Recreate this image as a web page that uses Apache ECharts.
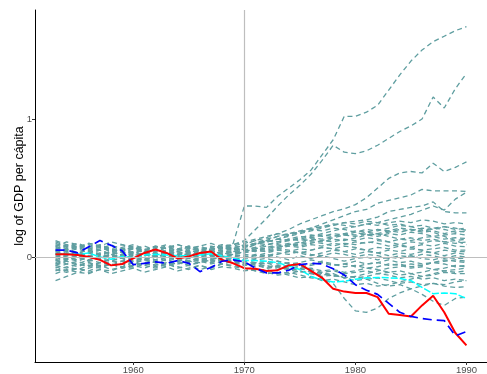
<!DOCTYPE html>
<html>
<head>
<meta charset="utf-8">
<script src="https://cdn.jsdelivr.net/npm/echarts@6/dist/echarts.min.js"></script>
<style>
  html, body { margin: 0; padding: 0; background: #ffffff; }
  #chart { width: 487px; height: 374px; }
</style>
</head>
<body>
<div id="chart"></div>
<script>
// Years of observation
const years = [1953,1954,1955,1956,1957,1958,1959,1960,1961,1962,1963,1964,1965,1966,1967,1968,1969,
               1970,1971,1972,1973,1974,1975,1976,1977,1978,1979,1980,1981,1982,1983,1984,1985,1986,1987,1988,1989,1990];

// Treated unit (solid red)
const treated = [0.02,0.02,0.015,0.0,-0.02,-0.06,-0.05,-0.01,0.03,0.055,0.03,-0.01,0.005,0.03,0.04,-0.02,-0.045,
                 -0.08,-0.085,-0.10,-0.095,-0.06,-0.05,-0.10,-0.15,-0.23,-0.25,-0.26,-0.26,-0.29,-0.41,-0.42,-0.43,-0.35,-0.28,-0.40,-0.55,-0.64];

// Blue dashed comparison series
const blueSeries = [0.05,0.05,0.03,0.075,0.12,0.085,0.045,-0.055,-0.045,-0.035,-0.045,-0.025,-0.045,-0.105,-0.075,-0.03,-0.02,
                    -0.035,-0.08,-0.115,-0.115,-0.095,-0.055,-0.045,-0.05,-0.085,-0.13,-0.20,-0.24,-0.27,-0.335,-0.40,-0.43,-0.445,-0.455,-0.46,-0.57,-0.54];

// Cyan comparison series
const cyanSeries = [0.025,0.025,0.02,0.03,0.0,-0.015,0.005,-0.005,0.015,0.02,0.015,0.01,0.01,0.015,0.025,0.01,-0.01,
                    -0.025,-0.025,-0.03,-0.04,-0.065,-0.09,-0.14,-0.165,-0.18,-0.175,-0.16,-0.15,-0.148,-0.15,-0.155,-0.17,-0.22,-0.265,-0.26,-0.265,-0.30];

// Placebo units (teal dashed)
const p01 = [0.04,0.06,0.03,0.05,0.02,0.04,0.01,0.03,0.05,0.02,0.04,0.06,0.03,0.05,0.07,0.04,0.10,
             0.37,0.37,0.36,0.44,0.50,0.56,0.63,0.74,0.85,1.02,1.02,1.05,1.10,1.21,1.32,1.42,1.50,1.56,1.60,1.64,1.67];
const p02 = [-0.02,0.01,0.03,0.00,0.02,-0.01,0.02,0.04,0.01,0.03,0.00,0.02,0.05,0.03,0.06,0.08,0.09,
             0.12,0.20,0.28,0.37,0.45,0.52,0.60,0.70,0.81,0.76,0.75,0.77,0.81,0.86,0.91,0.95,1.00,1.16,1.08,1.22,1.33];
const p03 = [0.08,0.05,0.07,0.04,0.06,0.09,0.05,0.07,0.04,0.06,0.08,0.05,0.07,0.04,0.06,0.08,0.06,
             0.09,0.12,0.14,0.17,0.20,0.24,0.27,0.30,0.33,0.35,0.38,0.43,0.50,0.57,0.61,0.62,0.61,0.68,0.62,0.65,0.69];
const p04 = [-0.05,-0.02,0.01,-0.03,0.00,0.02,-0.01,0.01,0.03,0.00,0.02,0.04,0.01,0.03,0.05,0.02,0.04,
             0.06,0.09,0.12,0.15,0.17,0.19,0.21,0.24,0.27,0.30,0.33,0.345,0.39,0.41,0.43,0.45,0.49,0.48,0.48,0.48,0.475];
const p05 = [0.10,0.07,0.09,0.06,0.08,0.05,0.07,0.09,0.06,0.04,0.07,0.05,0.08,0.06,0.04,0.07,0.05,
             0.08,0.10,0.11,0.13,0.15,0.17,0.19,0.21,0.23,0.25,0.26,0.27,0.29,0.33,0.345,0.36,0.37,0.40,0.33,0.32,0.32];
const p06 = [0.02,0.04,0.01,0.03,0.05,0.02,0.00,0.03,0.01,0.04,0.02,0.00,0.03,0.05,0.02,0.04,0.03,
             0.05,0.07,0.09,0.10,0.12,0.13,0.15,0.17,0.19,0.21,0.22,0.24,0.25,0.27,0.29,0.31,0.34,0.37,0.34,0.42,0.47];
const p07 = [-0.06,-0.03,-0.05,-0.02,-0.04,-0.01,-0.03,0.00,-0.02,0.01,-0.01,0.02,0.00,0.03,0.01,0.03,0.05,
             0.07,0.10,0.13,0.15,0.17,0.18,0.21,0.22,0.24,0.23,0.22,0.24,0.23,0.25,0.26,0.25,0.27,0.26,0.24,0.25,0.24];
const p08 = [0.06,0.09,0.07,0.10,0.08,0.06,0.09,0.07,0.05,0.08,0.06,0.09,0.07,0.05,0.08,0.06,0.07,
             0.08,0.10,0.09,0.11,0.13,0.12,0.14,0.13,0.15,0.17,0.16,0.18,0.17,0.19,0.18,0.20,0.19,0.21,0.20,0.18,0.19];
const p09 = [-0.10,-0.07,-0.09,-0.06,-0.08,-0.05,-0.07,-0.04,-0.06,-0.08,-0.05,-0.07,-0.09,-0.06,-0.08,-0.05,-0.07,
             -0.08,-0.10,-0.09,-0.12,-0.11,-0.13,-0.15,-0.16,-0.19,-0.30,-0.39,-0.40,-0.37,-0.30,-0.26,-0.23,-0.21,-0.19,-0.20,-0.18,-0.17];
const p10 = [0.03,0.00,-0.02,0.01,-0.01,0.02,0.00,-0.03,-0.01,0.01,-0.02,0.00,0.02,-0.01,0.01,-0.02,0.00,
             -0.03,-0.05,-0.04,-0.07,-0.09,-0.08,-0.11,-0.13,-0.12,-0.15,-0.17,-0.16,-0.19,-0.21,-0.20,-0.23,-0.27,-0.32,-0.35,-0.30,-0.29];
const p11 = [-0.04,-0.01,-0.03,0.00,-0.02,0.01,-0.01,-0.04,-0.02,0.00,-0.03,-0.01,0.01,-0.02,-0.04,-0.01,-0.03,
             -0.05,-0.07,-0.06,-0.09,-0.08,-0.10,-0.12,-0.11,-0.13,-0.15,-0.14,-0.16,-0.15,-0.17,-0.19,-0.18,-0.20,-0.19,-0.21,-0.22,-0.215];
const p12 = [0.01,-0.02,0.00,-0.03,-0.01,0.02,-0.01,0.01,-0.02,0.00,0.02,-0.01,-0.03,0.00,0.02,-0.01,-0.02,
             -0.04,-0.06,-0.08,-0.07,-0.09,-0.11,-0.10,-0.12,-0.14,-0.13,-0.15,-0.14,-0.12,-0.13,-0.15,-0.14,-0.16,-0.15,-0.17,-0.16,-0.17];
const p13 = [-0.08,-0.05,-0.07,-0.04,-0.06,-0.03,-0.05,-0.07,-0.04,-0.02,-0.05,-0.03,-0.06,-0.04,-0.02,-0.05,-0.03,
             -0.06,-0.05,-0.08,-0.07,-0.06,-0.09,-0.08,-0.10,-0.09,-0.11,-0.10,-0.08,-0.09,-0.11,-0.10,-0.12,-0.11,-0.09,-0.10,-0.11,-0.10];
const p14 = [0.05,0.02,0.04,0.01,0.03,0.00,0.02,-0.01,0.01,0.03,0.00,0.02,-0.01,0.01,0.03,0.00,-0.01,
             -0.02,-0.04,-0.03,-0.05,-0.04,-0.06,-0.05,-0.03,-0.05,-0.07,-0.06,-0.08,-0.07,-0.05,-0.06,-0.08,-0.07,-0.09,-0.08,-0.06,-0.07];
const p15 = [-0.03,0.00,-0.02,0.01,-0.01,-0.03,0.00,0.02,-0.01,0.01,-0.02,0.00,0.02,0.00,-0.02,0.01,-0.01,
             0.00,-0.02,-0.01,-0.03,-0.05,-0.04,-0.02,-0.04,-0.06,-0.05,-0.07,-0.05,-0.04,-0.06,-0.05,-0.07,-0.06,-0.04,-0.05,-0.07,-0.06];
const p16 = [0.02,0.05,0.03,0.00,0.02,0.04,0.01,-0.01,0.02,0.00,0.03,0.01,-0.01,0.02,0.00,0.02,0.01,
             0.01,-0.01,0.02,0.00,-0.02,0.01,-0.01,0.01,-0.01,-0.03,-0.01,0.00,-0.02,0.00,-0.01,0.01,-0.01,-0.02,0.00,-0.01,-0.01];
const p17 = [-0.12,-0.09,-0.11,-0.08,-0.06,-0.09,-0.07,-0.04,-0.06,-0.03,-0.05,-0.02,-0.04,-0.02,0.00,-0.02,-0.01,
             0.00,0.02,0.01,0.03,0.02,0.04,0.02,0.01,0.03,0.02,0.00,0.02,0.01,-0.01,0.01,0.00,0.02,0.01,-0.01,0.01,0.00];
const p18 = [0.07,0.04,0.06,0.03,0.05,0.02,0.04,0.06,0.03,0.01,0.04,0.02,0.05,0.03,0.01,0.03,0.02,
             0.03,0.05,0.04,0.06,0.05,0.03,0.05,0.07,0.06,0.04,0.06,0.05,0.03,0.05,0.04,0.06,0.05,0.03,0.05,0.04,0.04];
const p19 = [-0.02,-0.05,-0.03,-0.06,-0.04,-0.02,-0.05,-0.03,-0.01,-0.04,-0.02,-0.05,-0.03,-0.01,-0.03,-0.02,0.00,
             0.02,0.01,0.03,0.05,0.04,0.06,0.05,0.07,0.06,0.08,0.07,0.05,0.07,0.06,0.08,0.07,0.05,0.06,0.07,0.05,0.05];
const p20 = [0.11,0.08,0.10,0.07,0.09,0.06,0.04,0.07,0.05,0.08,0.06,0.04,0.06,0.08,0.05,0.07,0.06,
             0.05,0.07,0.06,0.08,0.10,0.09,0.11,0.10,0.08,0.10,0.09,0.11,0.10,0.08,0.09,0.07,0.09,0.08,0.10,0.08,0.075];
const p21 = [-0.06,-0.08,-0.05,-0.07,-0.04,-0.06,-0.03,-0.05,-0.02,-0.04,-0.06,-0.03,-0.01,-0.03,-0.01,0.01,0.02,
             0.03,0.05,0.04,0.06,0.08,0.07,0.09,0.08,0.10,0.09,0.11,0.10,0.12,0.11,0.09,0.11,0.10,0.12,0.11,0.10,0.11];
const p22 = [0.04,0.01,0.03,0.05,0.02,0.04,0.06,0.03,0.05,0.02,0.04,0.01,0.03,0.05,0.02,0.04,0.03,
             0.04,0.06,0.05,0.07,0.09,0.08,0.10,0.12,0.11,0.13,0.12,0.14,0.13,0.11,0.13,0.12,0.14,0.15,0.13,0.14,0.135];
const p23 = [-0.01,0.02,0.00,0.03,0.01,-0.01,0.02,0.04,0.01,0.03,0.00,0.02,0.04,0.01,0.03,0.05,0.04,
             0.05,0.04,0.07,0.09,0.08,0.10,0.12,0.11,0.13,0.12,0.14,0.16,0.15,0.17,0.16,0.18,0.17,0.15,0.16,0.17,0.16];
const p24 = [0.09,0.06,0.08,0.05,0.07,0.04,0.06,0.08,0.05,0.07,0.09,0.06,0.04,0.07,0.05,0.08,0.07,
             0.08,0.10,0.12,0.11,0.13,0.15,0.14,0.16,0.15,0.17,0.19,0.18,0.20,0.19,0.21,0.20,0.18,0.19,0.17,0.19,0.18];
const p25 = [-0.17,-0.14,-0.11,-0.12,-0.09,-0.10,-0.07,-0.08,-0.05,-0.06,-0.04,-0.05,-0.03,-0.04,-0.02,0.00,0.02,
             0.04,0.06,0.08,0.07,0.09,0.11,0.13,0.12,0.14,0.16,0.15,0.17,0.16,0.18,0.20,0.19,0.21,0.20,0.22,0.21,0.195];
const p26 = [0.00,0.03,0.01,-0.02,0.00,0.02,-0.01,-0.03,0.00,-0.02,0.01,-0.01,-0.03,-0.01,-0.04,-0.02,-0.03,
             -0.05,-0.04,-0.07,-0.06,-0.08,-0.07,-0.09,-0.11,-0.10,-0.12,-0.11,-0.10,-0.12,-0.11,-0.13,-0.12,-0.14,-0.13,-0.11,-0.12,-0.12];
const p27 = [0.08,0.11,0.09,0.06,0.08,0.05,0.03,0.06,0.04,0.02,0.05,0.03,0.01,0.04,0.02,0.00,0.01,
             -0.01,0.01,0.00,0.02,0.04,0.03,0.01,0.03,0.05,0.04,0.02,0.04,0.03,0.01,0.03,0.02,0.04,0.03,0.01,0.03,0.02];
const p28 = [-0.09,-0.11,-0.08,-0.10,-0.07,-0.05,-0.08,-0.06,-0.08,-0.05,-0.07,-0.04,-0.06,-0.03,-0.05,-0.03,-0.04,
             -0.06,-0.04,-0.05,-0.03,-0.05,-0.07,-0.06,-0.04,-0.06,-0.05,-0.03,-0.05,-0.04,-0.02,-0.04,-0.03,-0.05,-0.04,-0.02,-0.03,-0.04];
const p29 = [0.05,0.08,0.06,0.09,0.07,0.04,0.06,0.03,0.05,0.07,0.04,0.06,0.08,0.05,0.07,0.09,0.08,
             0.10,0.12,0.11,0.13,0.12,0.14,0.16,0.15,0.17,0.16,0.18,0.20,0.19,0.21,0.23,0.22,0.20,0.18,0.15,0.12,0.09];
const p30 = [-0.05,-0.03,-0.06,-0.04,-0.07,-0.05,-0.08,-0.06,-0.04,-0.07,-0.05,-0.08,-0.06,-0.09,-0.07,-0.05,-0.06,
             -0.08,-0.10,-0.12,-0.11,-0.13,-0.15,-0.14,-0.17,-0.16,-0.18,-0.20,-0.19,-0.21,-0.20,-0.18,-0.16,-0.14,-0.12,-0.10,-0.09,-0.08];
const p31 = [0.02,-0.01,0.01,0.03,0.00,0.02,0.04,0.01,0.03,0.00,0.02,0.04,0.02,0.05,0.03,0.06,0.05,
             0.07,0.09,0.11,0.13,0.16,0.18,0.20,0.22,0.23,0.25,0.24,0.26,0.25,0.23,0.24,0.22,0.23,0.21,0.22,0.20,0.21];
const p32 = [0.12,0.09,0.07,0.10,0.08,0.11,0.09,0.06,0.08,0.05,0.07,0.09,0.06,0.08,0.10,0.07,0.09,
             0.11,0.13,0.15,0.17,0.16,0.18,0.20,0.19,0.21,0.20,0.18,0.16,0.17,0.15,0.13,0.14,0.12,0.13,0.11,0.12,0.13];
const p33 = [-0.07,-0.10,-0.08,-0.11,-0.09,-0.12,-0.10,-0.08,-0.11,-0.09,-0.07,-0.10,-0.08,-0.06,-0.09,-0.07,-0.08,
             -0.10,-0.09,-0.11,-0.13,-0.12,-0.10,-0.12,-0.14,-0.13,-0.15,-0.14,-0.12,-0.10,-0.08,-0.07,-0.05,-0.06,-0.04,-0.03,-0.02,-0.03];

const placebos = [p01,p02,p03,p04,p05,p06,p07,p08,p09,p10,p11,p12,p13,p14,p15,p16,p17,
                  p18,p19,p20,p21,p22,p23,p24,p25,p26,p27,p28,p29,p30,p31,p32,p33];

// Axis ticks
const xTicks = [1960, 1970, 1980, 1990];
const yTicks = [0, 1];
const treatmentYear = 1970;

const FONT = '"Liberation Sans", Arial, Helvetica, sans-serif';
const pairs = vals => years.map((y, i) => [y, vals[i]]);

const series = [];

// Reference lines at the treatment year and at zero
series.push({
  type: 'line', data: [], z: 1, silent: true,
  markLine: {
    silent: true, symbol: 'none', animation: false,
    label: { show: false },
    lineStyle: { color: '#BEBEBE', width: 1.2, type: 'solid' },
    data: [{ xAxis: treatmentYear }, { yAxis: 0 }]
  }
});

placebos.forEach(vals => {
  series.push({
    type: 'line', data: pairs(vals), showSymbol: false, silent: true, z: 2,
    lineStyle: { color: '#5F9EA0', width: 1.3, type: [5, 3.5] }
  });
});

series.push({
  type: 'line', data: pairs(cyanSeries), showSymbol: false, silent: true, z: 3,
  lineStyle: { color: '#00FFFF', width: 1.5, type: [7, 2] }
});
series.push({
  type: 'line', data: pairs(treated), showSymbol: false, silent: true, z: 4,
  lineStyle: { color: '#FF0000', width: 2 }
});
series.push({
  type: 'line', data: pairs(blueSeries), showSymbol: false, silent: true, z: 5,
  lineStyle: { color: '#0000FF', width: 1.7, type: [9, 5] }
});

const chart = echarts.init(document.getElementById('chart'), null, { renderer: 'canvas' });
chart.setOption({
  animation: false,
  backgroundColor: '#ffffff',
  grid: { left: 35, right: 0, top: 10, bottom: 12, containLabel: false, outerBoundsMode: 'none' },
  xAxis: {
    type: 'value', min: 1951.15, max: 1991.85,
    axisLine: { show: true, onZero: false, lineStyle: { color: '#000000', width: 1 } },
    axisTick: { show: true, length: 3, customValues: xTicks, lineStyle: { color: '#333333', width: 1 } },
    axisLabel: { customValues: xTicks, formatter: v => String(v), color: '#4D4D4D', fontSize: 9.5, margin: 3, fontFamily: FONT },
    splitLine: { show: false }
  },
  yAxis: {
    type: 'value', min: -0.76, max: 1.79,
    name: 'log of GDP per cápita', nameLocation: 'middle', nameGap: 9, nameMoveOverlap: false,
    nameTextStyle: { color: '#000000', fontSize: 12.5, fontFamily: FONT },
    axisLine: { show: true, onZero: false, lineStyle: { color: '#000000', width: 1 } },
    axisTick: { show: true, length: 3, customValues: yTicks, lineStyle: { color: '#333333', width: 1 } },
    axisLabel: { customValues: yTicks, formatter: v => String(v), color: '#4D4D4D', fontSize: 9.5, margin: 3, fontFamily: FONT },
    splitLine: { show: false }
  },
  series: series
});
</script>
</body>
</html>
